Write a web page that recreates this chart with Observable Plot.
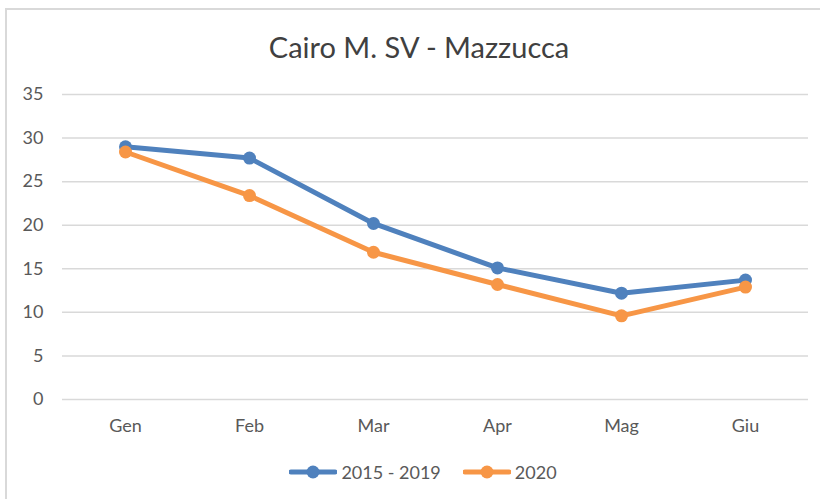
<!DOCTYPE html>
<html>
<head>
<meta charset="utf-8">
<script src="https://cdn.jsdelivr.net/npm/d3@7"></script>
<script src="https://cdn.jsdelivr.net/npm/@observablehq/plot@0.6"></script>
<style>
  body { margin: 0; background: #fff; font-family: Lato, "Liberation Sans", sans-serif; }
  #wrap { position: relative; width: 820px; height: 499px; overflow: hidden; background: #fff; }
  #frame { position: absolute; left: 5px; top: 8px; width: 900px; height: 600px;
           border-left: 2px solid #d9d9d9; border-top: 2px solid #d9d9d9; box-sizing: border-box; }
  #title { position: absolute; left: 0; width: 838px; top: 32px; text-align: center;
           font-size: 29px; line-height: 29px; color: #404040; }
  #chart { position: absolute; left: 0; top: 70px; }
  #legend { position: absolute; left: 0; width: 846px; top: 460px; height: 24px;
            display: flex; justify-content: center; align-items: center; gap: 22px;
            font-size: 18px; color: #595959; }
  .item { display: flex; align-items: center; }
  .item span { margin-left: 4px; }
</style>
</head>
<body>
<div id="wrap">
  <div id="frame"></div>
  <div id="title">Cairo M. SV - Mazzucca</div>
  <div id="chart"></div>
  <div id="legend"></div>
</div>
<script>
const titleText = "Cairo M. SV - Mazzucca";
const months = ["Gen", "Feb", "Mar", "Apr", "Mag", "Giu"];
const seriesNames = ["2015 - 2019", "2020"];
const values2015_2019 = [29.0, 27.7, 20.2, 15.1, 12.2, 13.7];
const values2020 = [28.4, 23.4, 16.9, 13.2, 9.6, 12.9];
const yTicks = [0, 5, 10, 15, 20, 25, 30, 35];
const seriesColors = ["#4f81bd", "#f79646"];

document.getElementById("title").textContent = titleText;

const seriesValues = [values2015_2019, values2020];
const data = [];
seriesNames.forEach((s, i) => {
  months.forEach((m, j) => data.push({series: s, month: m, value: seriesValues[i][j]}));
});

const plot = Plot.plot({
  width: 820,
  height: 380,
  marginLeft: 62,
  marginRight: 12,
  marginTop: 24,
  marginBottom: 51,
  style: { fontSize: "18px", fontFamily: "Lato, 'Liberation Sans', sans-serif", color: "#595959", background: "transparent" },
  x: { type: "point", domain: months, padding: 0.5 },
  y: { domain: [0, 35] },
  color: { domain: seriesNames, range: seriesColors },
  marks: [
    Plot.gridY(yTicks, { stroke: "#d9d9d9", strokeOpacity: 1, strokeWidth: 1.5 }),
    Plot.axisY(yTicks, { tickSize: 0, tickPadding: 19, label: null, fill: "#595959" }),
    Plot.axisX({ tickSize: 0, tickPadding: 20, label: null, fill: "#595959" }),
    Plot.line(data, { x: "month", y: "value", z: "series", stroke: "series", strokeWidth: 5, strokeLinejoin: "round", strokeLinecap: "round" }),
    Plot.dot(data, { x: "month", y: "value", fill: "series", r: 6.5, stroke: "none" })
  ]
});
document.getElementById("chart").appendChild(plot);

const legend = d3.select("#legend");
seriesNames.forEach((s, i) => {
  const item = legend.append("div").attr("class", "item");
  const svg = item.append("svg").attr("width", 48).attr("height", 16);
  svg.append("line").attr("x1", 2).attr("x2", 46).attr("y1", 8).attr("y2", 8)
     .attr("stroke", seriesColors[i]).attr("stroke-width", 5).attr("stroke-linecap", "round");
  svg.append("circle").attr("cx", 24).attr("cy", 8).attr("r", 6.5).attr("fill", seriesColors[i]);
  item.append("span").text(s);
});
</script>
</body>
</html>
